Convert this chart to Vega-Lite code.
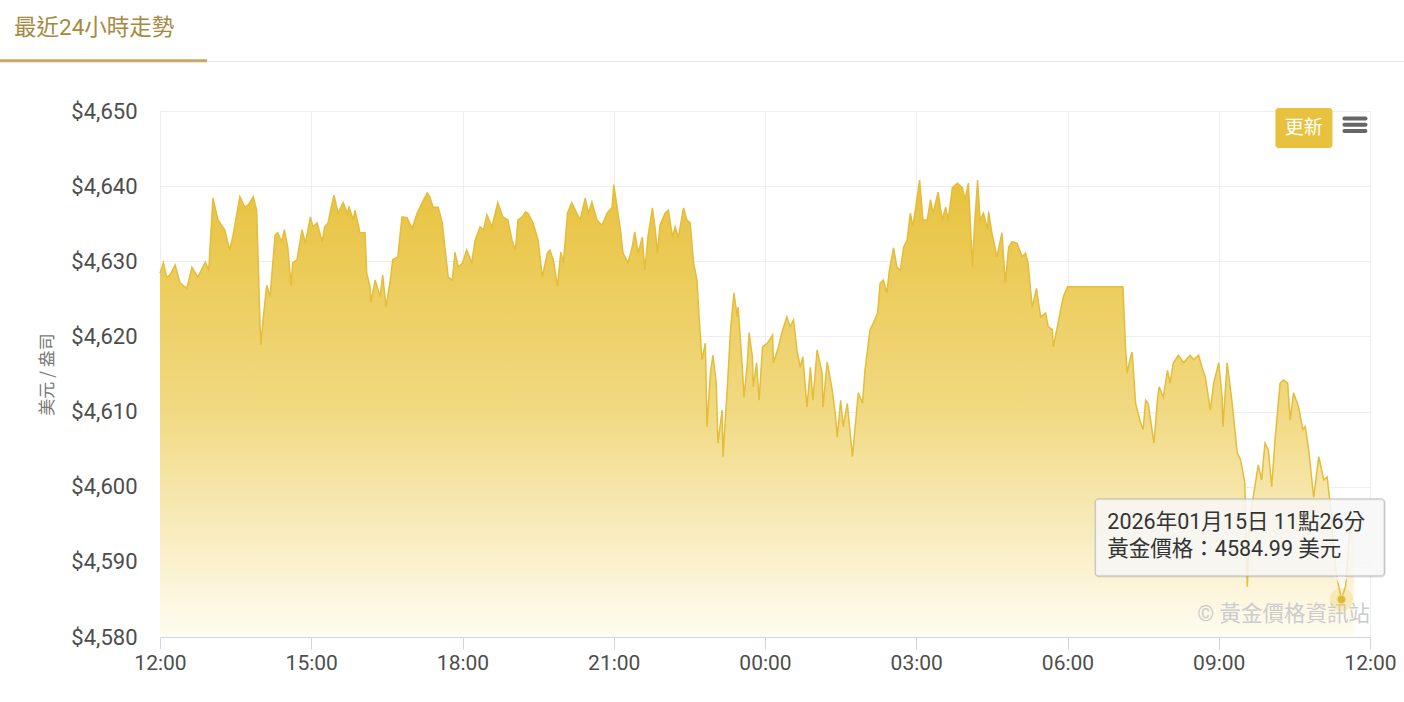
{
  "$schema": "https://vega.github.io/schema/vega-lite/v6.json",
  "autosize": {"type": "none"},
  "width": 1210,
  "height": 526,
  "padding": {"left": 160, "top": 111, "right": 34, "bottom": 65},
  "background": "#ffffff",
  "title": {
    "text": "最近24小時走勢",
    "anchor": "start",
    "frame": "group",
    "dx": -146,
    "offset": 20,
    "fontSize": 22.5,
    "fontWeight": "normal",
    "color": "#A6893E",
    "font": "Roboto, Noto Sans CJK TC"
  },
  "config": {
    "view": {"stroke": null},
    "font": "Roboto, Noto Sans CJK TC"
  },
  "datasets": {
    "gold": [
      {"t":"2026-01-14T12:00","p":4628.4},{"t":"2026-01-14T12:04","p":4629.8},{"t":"2026-01-14T12:08","p":4627.9},{"t":"2026-01-14T12:12","p":4628.2},{"t":"2026-01-14T12:18","p":4629.5},{"t":"2026-01-14T12:24","p":4627.1},{"t":"2026-01-14T12:32","p":4626.4},{"t":"2026-01-14T12:38","p":4629.2},{"t":"2026-01-14T12:45","p":4627.9},{"t":"2026-01-14T12:54","p":4629.9},{"t":"2026-01-14T12:58","p":4628.8},
      {"t":"2026-01-14T13:03","p":4638.4},{"t":"2026-01-14T13:09","p":4635.5},{"t":"2026-01-14T13:17","p":4634.2},{"t":"2026-01-14T13:23","p":4631.5},{"t":"2026-01-14T13:27","p":4633.5},{"t":"2026-01-14T13:35","p":4638.6},{"t":"2026-01-14T13:41","p":4637.2},{"t":"2026-01-14T13:45","p":4637.5},{"t":"2026-01-14T13:51","p":4638.6},{"t":"2026-01-14T13:55","p":4636.8},{"t":"2026-01-14T13:59","p":4621.8},
      {"t":"2026-01-14T14:00","p":4618.9},{"t":"2026-01-14T14:03","p":4622.6},{"t":"2026-01-14T14:07","p":4626.8},{"t":"2026-01-14T14:11","p":4625.3},{"t":"2026-01-14T14:17","p":4633.5},{"t":"2026-01-14T14:20","p":4633.8},{"t":"2026-01-14T14:25","p":4632.6},{"t":"2026-01-14T14:28","p":4634.2},{"t":"2026-01-14T14:32","p":4631.9},{"t":"2026-01-14T14:36","p":4626.8},{"t":"2026-01-14T14:38","p":4629.8},{"t":"2026-01-14T14:43","p":4630.2},{"t":"2026-01-14T14:49","p":4634.2},{"t":"2026-01-14T14:53","p":4632.4},{"t":"2026-01-14T14:59","p":4635.9},
      {"t":"2026-01-14T15:02","p":4634.6},{"t":"2026-01-14T15:07","p":4635.1},{"t":"2026-01-14T15:13","p":4632.6},{"t":"2026-01-14T15:16","p":4634.6},{"t":"2026-01-14T15:20","p":4635.1},{"t":"2026-01-14T15:25","p":4637.8},{"t":"2026-01-14T15:27","p":4638.8},{"t":"2026-01-14T15:32","p":4636.4},{"t":"2026-01-14T15:38","p":4637.8},{"t":"2026-01-14T15:43","p":4636.4},{"t":"2026-01-14T15:45","p":4637.2},{"t":"2026-01-14T15:50","p":4635.5},{"t":"2026-01-14T15:52","p":4636.8},{"t":"2026-01-14T15:58","p":4633.8},
      {"t":"2026-01-14T16:04","p":4633.8},{"t":"2026-01-14T16:06","p":4628.4},{"t":"2026-01-14T16:10","p":4626.6},{"t":"2026-01-14T16:11","p":4624.5},{"t":"2026-01-14T16:16","p":4627.5},{"t":"2026-01-14T16:22","p":4625.3},{"t":"2026-01-14T16:25","p":4628.2},{"t":"2026-01-14T16:29","p":4623.9},{"t":"2026-01-14T16:34","p":4627.5},{"t":"2026-01-14T16:37","p":4630.2},{"t":"2026-01-14T16:43","p":4630.6},{"t":"2026-01-14T16:48","p":4635.9},{"t":"2026-01-14T16:54","p":4635.8},
      {"t":"2026-01-14T17:00","p":4634.4},{"t":"2026-01-14T17:06","p":4636.4},{"t":"2026-01-14T17:12","p":4637.8},{"t":"2026-01-14T17:18","p":4639.1},{"t":"2026-01-14T17:21","p":4638.6},{"t":"2026-01-14T17:25","p":4637.2},{"t":"2026-01-14T17:31","p":4637.2},{"t":"2026-01-14T17:36","p":4635.1},{"t":"2026-01-14T17:39","p":4631.9},{"t":"2026-01-14T17:43","p":4627.9},{"t":"2026-01-14T17:48","p":4627.5},{"t":"2026-01-14T17:51","p":4631.2},{"t":"2026-01-14T17:55","p":4629.2},
      {"t":"2026-01-14T18:00","p":4629.8},{"t":"2026-01-14T18:05","p":4631.5},{"t":"2026-01-14T18:11","p":4629.8},{"t":"2026-01-14T18:15","p":4632.8},{"t":"2026-01-14T18:21","p":4634.6},{"t":"2026-01-14T18:25","p":4634.2},{"t":"2026-01-14T18:29","p":4636.2},{"t":"2026-01-14T18:35","p":4634.6},{"t":"2026-01-14T18:42","p":4637.8},{"t":"2026-01-14T18:48","p":4635.9},{"t":"2026-01-14T18:54","p":4635.5},{"t":"2026-01-14T18:59","p":4632.8},
      {"t":"2026-01-14T19:03","p":4631.5},{"t":"2026-01-14T19:06","p":4635.5},{"t":"2026-01-14T19:11","p":4635.9},{"t":"2026-01-14T19:15","p":4636.6},{"t":"2026-01-14T19:18","p":4636.4},{"t":"2026-01-14T19:24","p":4635.1},{"t":"2026-01-14T19:30","p":4632.8},{"t":"2026-01-14T19:35","p":4627.9},{"t":"2026-01-14T19:41","p":4631.1},{"t":"2026-01-14T19:44","p":4631.5},{"t":"2026-01-14T19:48","p":4630.2},{"t":"2026-01-14T19:53","p":4626.7},{"t":"2026-01-14T19:57","p":4631.2},
      {"t":"2026-01-14T20:00","p":4629.8},{"t":"2026-01-14T20:05","p":4636.4},{"t":"2026-01-14T20:10","p":4637.8},{"t":"2026-01-14T20:16","p":4636.4},{"t":"2026-01-14T20:20","p":4635.5},{"t":"2026-01-14T20:26","p":4638.4},{"t":"2026-01-14T20:30","p":4636.4},{"t":"2026-01-14T20:34","p":4637.9},{"t":"2026-01-14T20:40","p":4635.5},{"t":"2026-01-14T20:46","p":4634.8},{"t":"2026-01-14T20:52","p":4636.4},{"t":"2026-01-14T20:58","p":4637.2},
      {"t":"2026-01-14T21:00","p":4640.2},{"t":"2026-01-14T21:04","p":4637.2},{"t":"2026-01-14T21:08","p":4634.2},{"t":"2026-01-14T21:11","p":4631.1},{"t":"2026-01-14T21:17","p":4629.8},{"t":"2026-01-14T21:22","p":4631.9},{"t":"2026-01-14T21:25","p":4633.9},{"t":"2026-01-14T21:29","p":4631.1},{"t":"2026-01-14T21:34","p":4633.2},{"t":"2026-01-14T21:37","p":4628.8},{"t":"2026-01-14T21:41","p":4633.5},{"t":"2026-01-14T21:46","p":4637.1},{"t":"2026-01-14T21:49","p":4634.6},{"t":"2026-01-14T21:52","p":4631.1},{"t":"2026-01-14T21:55","p":4634.8},
      {"t":"2026-01-14T22:01","p":4636.4},{"t":"2026-01-14T22:05","p":4636.8},{"t":"2026-01-14T22:10","p":4633.2},{"t":"2026-01-14T22:13","p":4634.6},{"t":"2026-01-14T22:17","p":4633.2},{"t":"2026-01-14T22:23","p":4637.1},{"t":"2026-01-14T22:27","p":4635.5},{"t":"2026-01-14T22:31","p":4635.1},{"t":"2026-01-14T22:35","p":4629.8},{"t":"2026-01-14T22:39","p":4627.5},{"t":"2026-01-14T22:42","p":4621.8},{"t":"2026-01-14T22:45","p":4616.9},{"t":"2026-01-14T22:49","p":4619.1},{"t":"2026-01-14T22:51","p":4608.0},{"t":"2026-01-14T22:55","p":4615.1},{"t":"2026-01-14T22:58","p":4617.5},
      {"t":"2026-01-14T23:02","p":4613.8},{"t":"2026-01-14T23:04","p":4605.8},{"t":"2026-01-14T23:09","p":4610.2},{"t":"2026-01-14T23:10","p":4604.0},{"t":"2026-01-14T23:15","p":4612.9},{"t":"2026-01-14T23:19","p":4620.9},{"t":"2026-01-14T23:23","p":4625.8},{"t":"2026-01-14T23:27","p":4622.6},{"t":"2026-01-14T23:28","p":4623.9},{"t":"2026-01-14T23:33","p":4615.9},{"t":"2026-01-14T23:35","p":4611.9},{"t":"2026-01-14T23:39","p":4616.5},{"t":"2026-01-14T23:41","p":4620.5},{"t":"2026-01-14T23:45","p":4617.3},{"t":"2026-01-14T23:46","p":4613.3},{"t":"2026-01-14T23:50","p":4616.5},{"t":"2026-01-14T23:53","p":4611.5},{"t":"2026-01-14T23:57","p":4618.6},
      {"t":"2026-01-15T00:03","p":4619.1},{"t":"2026-01-15T00:09","p":4620.2},{"t":"2026-01-15T00:10","p":4616.5},{"t":"2026-01-15T00:16","p":4618.6},{"t":"2026-01-15T00:20","p":4620.5},{"t":"2026-01-15T00:26","p":4622.6},{"t":"2026-01-15T00:30","p":4621.3},{"t":"2026-01-15T00:34","p":4622.2},{"t":"2026-01-15T00:38","p":4618.2},{"t":"2026-01-15T00:42","p":4615.9},{"t":"2026-01-15T00:45","p":4617.3},{"t":"2026-01-15T00:50","p":4610.6},{"t":"2026-01-15T00:54","p":4615.9},{"t":"2026-01-15T00:57","p":4611.5},
      {"t":"2026-01-15T01:02","p":4618.2},{"t":"2026-01-15T01:08","p":4615.1},{"t":"2026-01-15T01:09","p":4610.6},{"t":"2026-01-15T01:14","p":4616.6},{"t":"2026-01-15T01:20","p":4612.9},{"t":"2026-01-15T01:24","p":4609.3},{"t":"2026-01-15T01:26","p":4606.6},{"t":"2026-01-15T01:30","p":4611.5},{"t":"2026-01-15T01:33","p":4608.0},{"t":"2026-01-15T01:38","p":4611.1},{"t":"2026-01-15T01:44","p":4604.0},{"t":"2026-01-15T01:47","p":4607.6},{"t":"2026-01-15T01:51","p":4612.5},{"t":"2026-01-15T01:56","p":4611.1},{"t":"2026-01-15T01:59","p":4615.5},
      {"t":"2026-01-15T02:05","p":4620.9},{"t":"2026-01-15T02:09","p":4621.8},{"t":"2026-01-15T02:14","p":4623.1},{"t":"2026-01-15T02:17","p":4627.1},{"t":"2026-01-15T02:21","p":4627.5},{"t":"2026-01-15T02:25","p":4625.8},{"t":"2026-01-15T02:28","p":4628.8},{"t":"2026-01-15T02:33","p":4631.8},{"t":"2026-01-15T02:37","p":4629.2},{"t":"2026-01-15T02:41","p":4628.8},{"t":"2026-01-15T02:45","p":4631.9},{"t":"2026-01-15T02:49","p":4632.8},{"t":"2026-01-15T02:53","p":4636.4},{"t":"2026-01-15T02:56","p":4634.6},
      {"t":"2026-01-15T03:04","p":4640.8},{"t":"2026-01-15T03:08","p":4635.5},{"t":"2026-01-15T03:13","p":4635.5},{"t":"2026-01-15T03:17","p":4638.2},{"t":"2026-01-15T03:20","p":4636.4},{"t":"2026-01-15T03:26","p":4639.2},{"t":"2026-01-15T03:31","p":4635.5},{"t":"2026-01-15T03:35","p":4637.2},{"t":"2026-01-15T03:38","p":4635.5},{"t":"2026-01-15T03:43","p":4639.8},{"t":"2026-01-15T03:49","p":4640.4},{"t":"2026-01-15T03:55","p":4639.8},{"t":"2026-01-15T03:58","p":4638.2},
      {"t":"2026-01-15T04:02","p":4640.4},{"t":"2026-01-15T04:07","p":4629.2},{"t":"2026-01-15T04:09","p":4634.2},{"t":"2026-01-15T04:13","p":4640.8},{"t":"2026-01-15T04:16","p":4635.5},{"t":"2026-01-15T04:20","p":4636.4},{"t":"2026-01-15T04:25","p":4634.2},{"t":"2026-01-15T04:26","p":4636.6},{"t":"2026-01-15T04:30","p":4633.8},{"t":"2026-01-15T04:36","p":4630.6},{"t":"2026-01-15T04:42","p":4633.8},{"t":"2026-01-15T04:46","p":4627.1},{"t":"2026-01-15T04:50","p":4631.9},{"t":"2026-01-15T04:54","p":4632.6},
      {"t":"2026-01-15T05:00","p":4632.4},{"t":"2026-01-15T05:06","p":4630.6},{"t":"2026-01-15T05:10","p":4631.1},{"t":"2026-01-15T05:13","p":4629.8},{"t":"2026-01-15T05:18","p":4623.9},{"t":"2026-01-15T05:23","p":4626.4},{"t":"2026-01-15T05:28","p":4622.6},{"t":"2026-01-15T05:34","p":4623.1},{"t":"2026-01-15T05:37","p":4621.3},{"t":"2026-01-15T05:42","p":4620.9},{"t":"2026-01-15T05:43","p":4618.6},{"t":"2026-01-15T05:48","p":4621.3},{"t":"2026-01-15T05:51","p":4623.1},{"t":"2026-01-15T05:55","p":4625.3},
      {"t":"2026-01-15T06:00","p":4626.6},{"t":"2026-01-15T07:06","p":4626.6},{"t":"2026-01-15T07:09","p":4618.6},{"t":"2026-01-15T07:11","p":4615.1},{"t":"2026-01-15T07:15","p":4617.3},{"t":"2026-01-15T07:17","p":4617.9},{"t":"2026-01-15T07:21","p":4611.1},{"t":"2026-01-15T07:27","p":4608.5},{"t":"2026-01-15T07:30","p":4607.6},{"t":"2026-01-15T07:33","p":4611.5},{"t":"2026-01-15T07:36","p":4611.1},{"t":"2026-01-15T07:41","p":4607.2},{"t":"2026-01-15T07:43","p":4605.8},{"t":"2026-01-15T07:47","p":4611.5},{"t":"2026-01-15T07:49","p":4613.3},{"t":"2026-01-15T07:54","p":4611.9},{"t":"2026-01-15T07:59","p":4615.5},
      {"t":"2026-01-15T08:02","p":4613.8},{"t":"2026-01-15T08:06","p":4616.5},{"t":"2026-01-15T08:12","p":4617.5},{"t":"2026-01-15T08:18","p":4616.5},{"t":"2026-01-15T08:26","p":4617.5},{"t":"2026-01-15T08:30","p":4616.9},{"t":"2026-01-15T08:36","p":4617.5},{"t":"2026-01-15T08:40","p":4615.9},{"t":"2026-01-15T08:44","p":4614.6},{"t":"2026-01-15T08:50","p":4610.2},{"t":"2026-01-15T08:54","p":4613.8},
      {"t":"2026-01-15T09:00","p":4616.5},{"t":"2026-01-15T09:04","p":4611.9},{"t":"2026-01-15T09:05","p":4608.0},{"t":"2026-01-15T09:10","p":4616.5},{"t":"2026-01-15T09:16","p":4611.1},{"t":"2026-01-15T09:22","p":4604.5},{"t":"2026-01-15T09:26","p":4603.6},{"t":"2026-01-15T09:31","p":4600.5},{"t":"2026-01-15T09:34","p":4586.7},{"t":"2026-01-15T09:37","p":4595.6},{"t":"2026-01-15T09:41","p":4598.6},{"t":"2026-01-15T09:47","p":4602.9},{"t":"2026-01-15T09:51","p":4600.9},{"t":"2026-01-15T09:55","p":4605.8},{"t":"2026-01-15T09:59","p":4604.9},
      {"t":"2026-01-15T10:03","p":4600.0},{"t":"2026-01-15T10:07","p":4606.2},{"t":"2026-01-15T10:13","p":4613.8},{"t":"2026-01-15T10:17","p":4614.2},{"t":"2026-01-15T10:22","p":4613.8},{"t":"2026-01-15T10:25","p":4608.9},{"t":"2026-01-15T10:29","p":4612.5},{"t":"2026-01-15T10:35","p":4610.6},{"t":"2026-01-15T10:40","p":4607.6},{"t":"2026-01-15T10:43","p":4608.0},{"t":"2026-01-15T10:47","p":4604.9},{"t":"2026-01-15T10:53","p":4598.6},{"t":"2026-01-15T10:59","p":4604.0},
      {"t":"2026-01-15T11:05","p":4600.9},{"t":"2026-01-15T11:09","p":4601.3},{"t":"2026-01-15T11:13","p":4597.3},{"t":"2026-01-15T11:18","p":4590.2},{"t":"2026-01-15T11:22","p":4587.2},{"t":"2026-01-15T11:26","p":4584.99},{"t":"2026-01-15T11:31","p":4586.8},{"t":"2026-01-15T11:35","p":4592.9},{"t":"2026-01-15T11:39","p":4596.2},{"t":"2026-01-15T11:41","p":4594.2}
    ],
    "hover": [{"t":"2026-01-15T11:26","p":4584.99}]
  },
  "layer": [
    {
      "data": {"name": "gold"},
      "mark": {
        "type": "area",
        "interpolate": "linear",
        "color": {
          "gradient": "linear", "x1": 0, "y1": 0, "x2": 0, "y2": 1,
          "stops": [
            {"offset": 0, "color": "#E8C23E"},
            {"offset": 0.5, "color": "#F1D981"},
            {"offset": 1, "color": "#FFFCF2"}
          ]
        }
      },
      "encoding": {
        "x": {
          "field": "t", "type": "temporal",
          "scale": {"domain": [{"year":2026,"month":1,"date":14,"hours":12}, {"year":2026,"month":1,"date":15,"hours":12}]},
          "axis": {
            "title": null,
            "format": "%H:%M",
            "values": [
              {"year":2026,"month":1,"date":14,"hours":12},
              {"year":2026,"month":1,"date":14,"hours":15},
              {"year":2026,"month":1,"date":14,"hours":18},
              {"year":2026,"month":1,"date":14,"hours":21},
              {"year":2026,"month":1,"date":15,"hours":0},
              {"year":2026,"month":1,"date":15,"hours":3},
              {"year":2026,"month":1,"date":15,"hours":6},
              {"year":2026,"month":1,"date":15,"hours":9},
              {"year":2026,"month":1,"date":15,"hours":12}
            ],
            "grid": true, "gridColor": "#eeeeee", "gridWidth": 1,
            "domain": true, "domainColor": "#ccd6eb", "domainWidth": 1,
            "ticks": true, "tickColor": "#ccd6eb", "tickSize": 12, "tickWidth": 1,
            "labelFontSize": 21, "labelColor": "#4d4d4d", "labelPadding": 3,
            "labelFont": "Roboto", "labelBound": false, "labelOverlap": false, "labelFlush": false
          }
        },
        "y": {
          "field": "p", "type": "quantitative",
          "scale": {"domain": [4580, 4650], "nice": false, "zero": false},
          "axis": {
            "title": "美元 / 盎司",
            "titleFontSize": 17, "titleFontWeight": "normal", "titleColor": "#777777",
            "titlePadding": 14, "titleFont": "Noto Sans CJK TC",
            "values": [4580, 4590, 4600, 4610, 4620, 4630, 4640, 4650],
            "format": "$,.0f",
            "grid": true, "gridColor": "#eeeeee", "gridWidth": 1,
            "domain": false, "ticks": false,
            "labelFontSize": 22, "labelColor": "#4d4d4d", "labelPadding": 23,
            "labelFont": "Roboto"
          }
        },
        "y2": {"datum": 4580}
      }
    },
    {
      "data": {"name": "gold"},
      "mark": {"type": "line", "color": "#E4BD3A", "strokeWidth": 1.5, "interpolate": "linear"},
      "encoding": {
        "x": {"field": "t", "type": "temporal"},
        "y": {"field": "p", "type": "quantitative"}
      }
    },
    {
      "data": {"values": [{}]},
      "mark": {"type": "text", "align": "right", "baseline": "middle", "fontSize": 21.5, "color": "#cccccc", "text": "© 黃金價格資訊站", "font": "Roboto, Noto Sans CJK TC"},
      "encoding": {
        "x": {"datum": {"year":2026,"month":1,"date":15,"hours":12}, "type": "temporal"},
        "y": {"datum": 4582.9, "type": "quantitative"}
      }
    },
    {
      "data": {"name": "hover"},
      "mark": {"type": "point", "shape": "circle", "filled": true, "size": 530, "color": "#E8C23E", "opacity": 0.25},
      "encoding": {
        "x": {"field": "t", "type": "temporal"},
        "y": {"field": "p", "type": "quantitative"}
      }
    },
    {
      "data": {"values": [{}]},
      "mark": {"type": "rect", "clip": false, "cornerRadius": 3, "fill": null, "stroke": "#000000", "strokeOpacity": 0.1, "strokeWidth": 3, "xOffset": 1, "yOffset": 1},
      "encoding": {
        "x": {"datum": {"year":2026,"month":1,"date":15,"hours":6,"minutes":33}, "type": "temporal"},
        "x2": {"datum": {"year":2026,"month":1,"date":15,"hours":12,"minutes":17}},
        "y": {"datum": 4598.36, "type": "quantitative"},
        "y2": {"datum": 4588.12}
      }
    },
    {
      "data": {"values": [{}]},
      "mark": {"type": "rect", "clip": false, "cornerRadius": 3, "fill": "#f7f7f7", "fillOpacity": 0.85, "stroke": "#bdbdbd", "strokeWidth": 1},
      "encoding": {
        "x": {"datum": {"year":2026,"month":1,"date":15,"hours":6,"minutes":33}, "type": "temporal"},
        "x2": {"datum": {"year":2026,"month":1,"date":15,"hours":12,"minutes":17}},
        "y": {"datum": 4598.36, "type": "quantitative"},
        "y2": {"datum": 4588.12}
      }
    },
    {
      "data": {"values": [{}]},
      "mark": {"type": "point", "shape": "triangle-down", "filled": true, "size": 160, "color": "#f7f7f7", "opacity": 0.9},
      "encoding": {
        "x": {"datum": {"year":2026,"month":1,"date":15,"hours":11,"minutes":26}, "type": "temporal"},
        "y": {"datum": 4587.3, "type": "quantitative"}
      }
    },
    {
      "data": {"name": "hover"},
      "mark": {"type": "point", "shape": "circle", "filled": true, "size": 70, "fill": "#E2B82E", "stroke": "#F3DC8A", "strokeWidth": 1, "opacity": 1},
      "encoding": {
        "x": {"field": "t", "type": "temporal"},
        "y": {"field": "p", "type": "quantitative"}
      }
    },
    {
      "data": {"values": [{}]},
      "mark": {"type": "text", "align": "left", "baseline": "middle", "fontSize": 21.5, "color": "#333333", "text": "2026年01月15日 11點26分", "font": "Roboto, Noto Sans CJK TC"},
      "encoding": {
        "x": {"datum": {"year":2026,"month":1,"date":15,"hours":6,"minutes":47,"seconds":24}, "type": "temporal"},
        "y": {"datum": 4595.17, "type": "quantitative"}
      }
    },
    {
      "data": {"values": [{}]},
      "mark": {"type": "text", "align": "left", "baseline": "middle", "fontSize": 21.5, "color": "#333333", "text": "黃金價格：4584.99 美元", "font": "Roboto, Noto Sans CJK TC"},
      "encoding": {
        "x": {"datum": {"year":2026,"month":1,"date":15,"hours":6,"minutes":47,"seconds":24}, "type": "temporal"},
        "y": {"datum": 4591.58, "type": "quantitative"}
      }
    },
    {
      "data": {"values": [{}]},
      "mark": {"type": "rect", "clip": false, "cornerRadius": 3, "fill": "#E8C23E"},
      "encoding": {
        "x": {"datum": {"year":2026,"month":1,"date":15,"hours":10,"minutes":7,"seconds":24}, "type": "temporal"},
        "x2": {"datum": {"year":2026,"month":1,"date":15,"hours":11,"minutes":15,"seconds":18}},
        "y": {"datum": 4650.4, "type": "quantitative"},
        "y2": {"datum": 4645.08}
      }
    },
    {
      "data": {"values": [{}]},
      "mark": {"type": "text", "clip": false, "align": "center", "baseline": "middle", "fontSize": 19, "color": "#ffffff", "text": "更新", "font": "Noto Sans CJK TC"},
      "encoding": {
        "x": {"datum": {"year":2026,"month":1,"date":15,"hours":10,"minutes":41,"seconds":18}, "type": "temporal"},
        "y": {"datum": 4647.74, "type": "quantitative"}
      }
    },
    {
      "data": {"values": [{}]},
      "mark": {"type": "rule", "clip": false, "color": "#666666", "strokeWidth": 4, "strokeCap": "round"},
      "encoding": {
        "x": {"datum": {"year":2026,"month":1,"date":15,"hours":11,"minutes":29,"seconds":36}, "type": "temporal"},
        "x2": {"datum": {"year":2026,"month":1,"date":15,"hours":11,"minutes":54,"seconds":36}},
        "y": {"datum": 4649.0, "type": "quantitative"}
      }
    },
    {
      "data": {"values": [{}]},
      "mark": {"type": "rule", "clip": false, "color": "#666666", "strokeWidth": 4, "strokeCap": "round"},
      "encoding": {
        "x": {"datum": {"year":2026,"month":1,"date":15,"hours":11,"minutes":29,"seconds":36}, "type": "temporal"},
        "x2": {"datum": {"year":2026,"month":1,"date":15,"hours":11,"minutes":54,"seconds":36}},
        "y": {"datum": 4648.18, "type": "quantitative"}
      }
    },
    {
      "data": {"values": [{}]},
      "mark": {"type": "rule", "clip": false, "color": "#666666", "strokeWidth": 4, "strokeCap": "round"},
      "encoding": {
        "x": {"datum": {"year":2026,"month":1,"date":15,"hours":11,"minutes":29,"seconds":36}, "type": "temporal"},
        "x2": {"datum": {"year":2026,"month":1,"date":15,"hours":11,"minutes":54,"seconds":36}},
        "y": {"datum": 4647.34, "type": "quantitative"}
      }
    },
    {
      "data": {"values": [{}]},
      "mark": {"type": "rule", "clip": false, "color": "#e6e6e6", "strokeWidth": 1},
      "encoding": {
        "x": {"datum": {"year":2026,"month":1,"date":14,"hours":12,"minutes":56}, "type": "temporal"},
        "x2": {"datum": {"year":2026,"month":1,"date":15,"hours":12,"minutes":42}},
        "y": {"datum": 4656.6, "type": "quantitative"}
      }
    },
    {
      "data": {"values": [{}]},
      "mark": {"type": "rule", "clip": false, "color": "#C8A865", "strokeWidth": 3},
      "encoding": {
        "x": {"datum": {"year":2026,"month":1,"date":14,"hours":8,"minutes":49,"seconds":30}, "type": "temporal"},
        "x2": {"datum": {"year":2026,"month":1,"date":14,"hours":12,"minutes":56}},
        "y": {"datum": 4656.7, "type": "quantitative"}
      }
    }
  ]
}
